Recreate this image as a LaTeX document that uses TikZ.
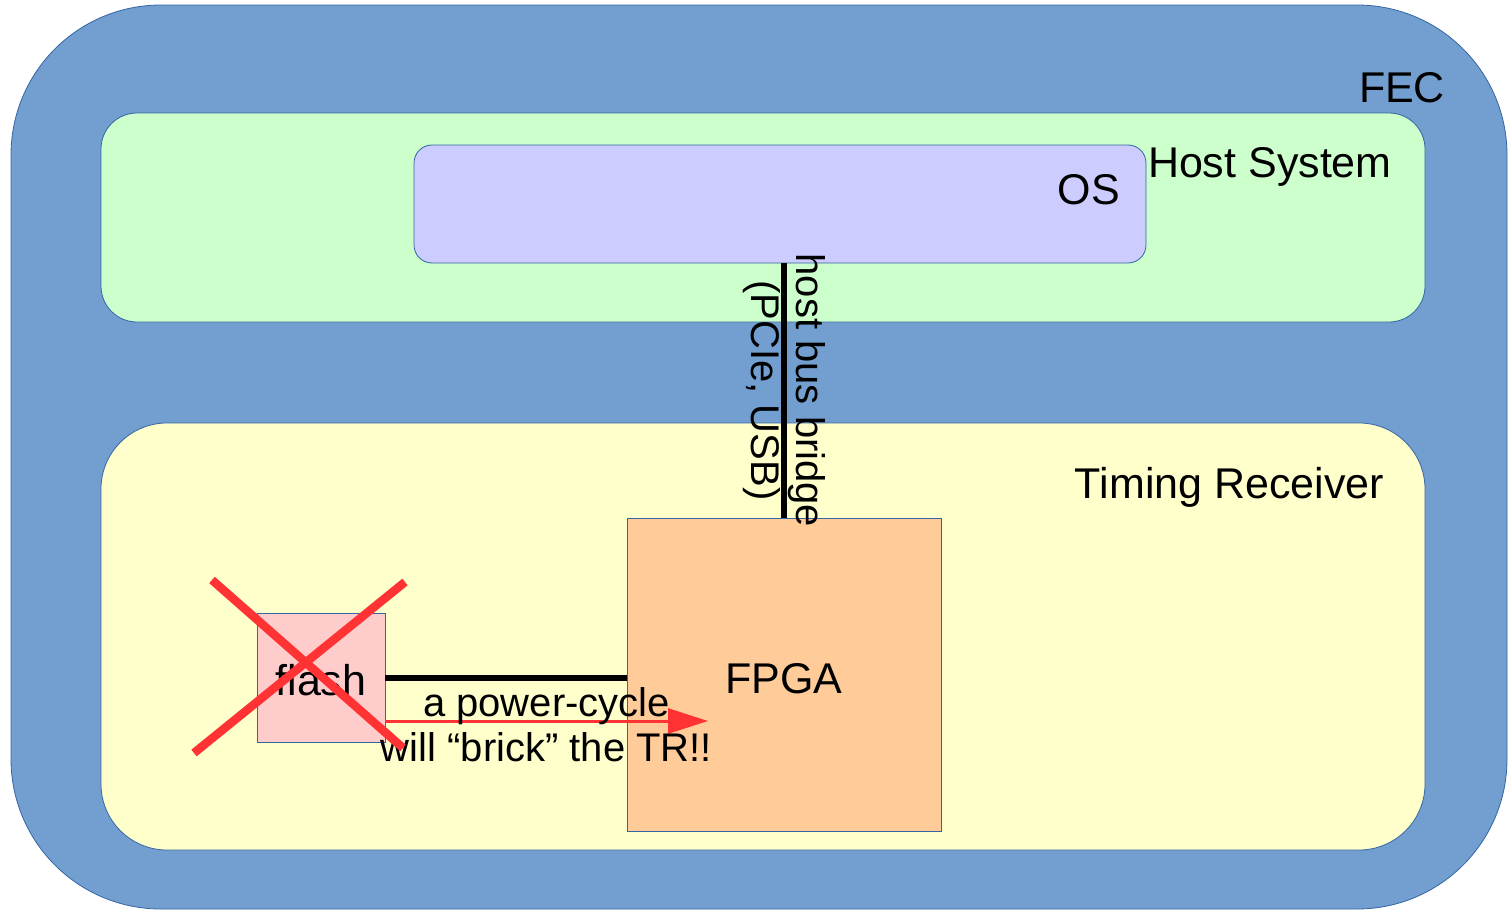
\documentclass[tikz,border=0pt]{standalone}
\usepackage{fontspec}
\setmainfont{Liberation Sans}
\usetikzlibrary{arrows.meta}
\definecolor{fecblue}{HTML}{729FCF}
\definecolor{edgeblue}{HTML}{3465A4}
\definecolor{hostgreen}{HTML}{CCFFCC}
\definecolor{trellow}{HTML}{FFFFCC}
\definecolor{oslav}{HTML}{CCCCFF}
\definecolor{fpgaorange}{HTML}{FFCC99}
\definecolor{flashpink}{HTML}{FFCCCC}
\definecolor{xred}{HTML}{FF3333}
\begin{document}
\begin{tikzpicture}[x=1pt,y=-1pt,
  font=\fontsize{43}{46}\selectfont,
  box/.style={draw=edgeblue, line width=0.8pt, inner sep=0pt, outer sep=0pt},
  lbl/.style={inner sep=0pt, outer sep=0pt},
  edgelbl/.style={inner sep=0pt, outer sep=0pt, align=center, font=\fontsize{40}{45}\selectfont},
  busline/.style={line width=6pt, black},
  redarrow/.style={draw=xred, line width=3pt, -{Triangle[length=40pt,width=25pt]}},
  cross/.style={draw=xred, line width=8.5pt}]
\useasboundingbox (0,0) rectangle (1508,910);
\begin{scope}
  \clip (0,0) rectangle (1508,910);
  \draw[box, fill=fecblue, rounded corners=150pt] (11,5) rectangle (1507,909);
\end{scope}
\node[box, fill=hostgreen, rounded corners=36pt, minimum width=1324pt, minimum height=209pt] (host) at (763,217.5) {};
\node[box, fill=trellow, rounded corners=66pt, minimum width=1324pt, minimum height=427pt] (tr) at (763,636.5) {};
\node[box, fill=oslav, rounded corners=18pt, minimum width=732pt, minimum height=118pt] (os) at (780,204) {};
\node[box, fill=fpgaorange, minimum width=314pt, minimum height=313pt] (fpga) at (784,674.5) {};
\node[box, fill=flashpink, minimum width=128pt, minimum height=129pt] (flash) at (321,677.5) {};
\node[lbl] (fpgalbl) at ([yshift=-4pt]fpga.center) {FPGA};
\node[lbl] (flashlbl) at ([yshift=-3pt]flash.center) {flash};
\node[lbl, anchor=base east] (feclbl) at (1445,102) {FEC};
\node[lbl, anchor=base west] (hostlbl) at (1148,177) {Host System};
\node[lbl, anchor=base east] (oslbl) at (1120,204) {OS};
\node[lbl, anchor=base east] (trlbl) at (1384,498) {Timing Receiver};
\draw[busline] (fpga.north |- os.south) -- (fpga.north)
  node[midway, rotate=-90, edgelbl] (buslbl) {host bus bridge\\(PCIe, USB)};
\draw[busline] (flash.east) -- (flash.east -| fpga.west);
\coordinate (arrowstart) at ([yshift=-43.5pt]flash.east);
\coordinate (arrowend) at (708,721);
\draw[redarrow] (arrowstart) -- (arrowend)
  node[midway, edgelbl, yshift=-4pt] (arrowlbl) {a power-cycle\\will “brick” the TR!!};
\draw[cross] (212,580) -- (403,748);
\draw[cross] (405,582) -- (194,753);
\end{tikzpicture}
\end{document}
